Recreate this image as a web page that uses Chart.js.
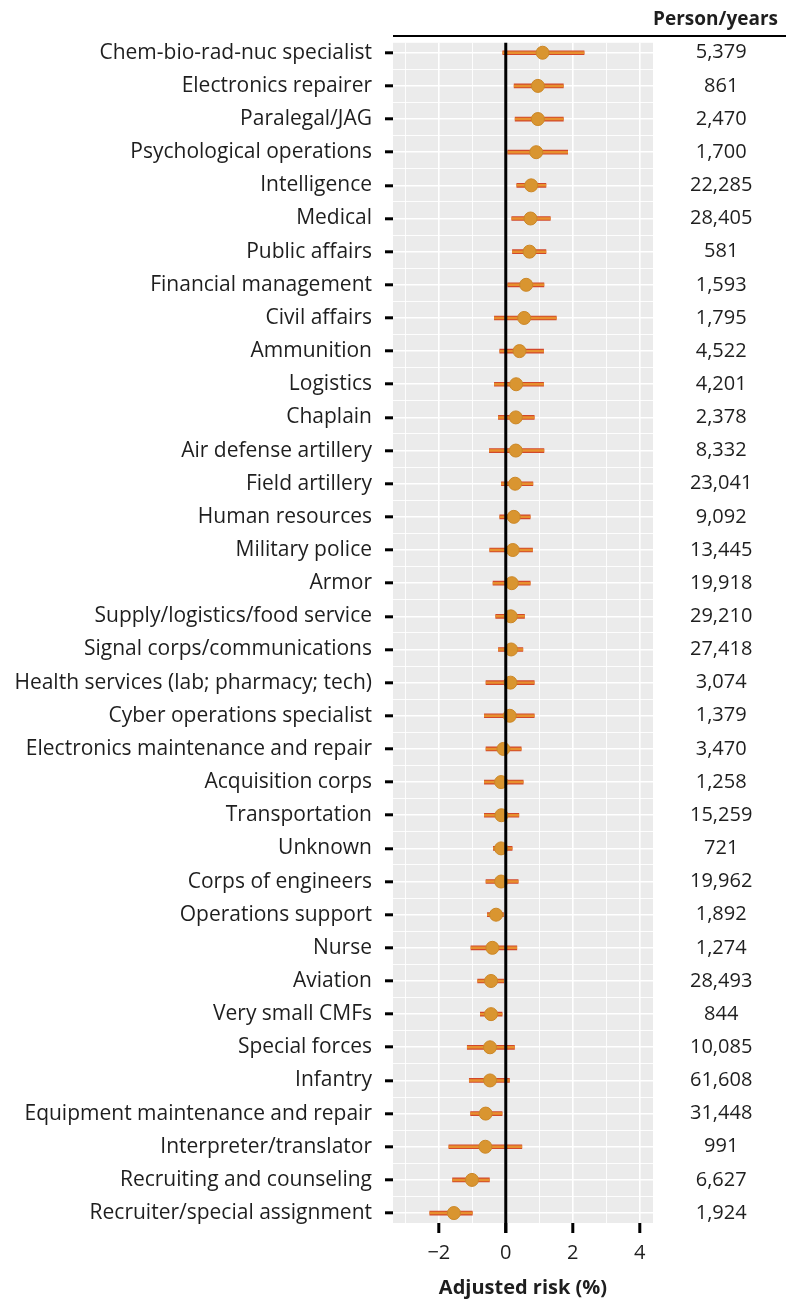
<!DOCTYPE html>
<html>
<head>
<meta charset="utf-8">
<script src="https://cdn.jsdelivr.net/npm/chart.js@4.4.1/dist/chart.umd.min.js"></script>
<style>
  html, body { margin: 0; padding: 0; background: #fff; }
  canvas { display: block; }
</style>
</head>
<body>
<canvas id="forestChart" width="786" height="1303"></canvas>
<script>
// Occupation categories, top to bottom
const categories = [
    'Chem-bio-rad-nuc specialist', 'Electronics repairer', 'Paralegal/JAG',
    'Psychological operations', 'Intelligence', 'Medical', 'Public affairs',
    'Financial management', 'Civil affairs', 'Ammunition', 'Logistics', 'Chaplain',
    'Air defense artillery', 'Field artillery', 'Human resources', 'Military police',
    'Armor', 'Supply/logistics/food service', 'Signal corps/communications',
    'Health services (lab; pharmacy; tech)', 'Cyber operations specialist',
    'Electronics maintenance and repair', 'Acquisition corps', 'Transportation',
    'Unknown', 'Corps of engineers', 'Operations support', 'Nurse', 'Aviation',
    'Very small CMFs', 'Special forces', 'Infantry', 'Equipment maintenance and repair',
    'Interpreter/translator', 'Recruiting and counseling', 'Recruiter/special assignment'
];

// Adjusted risk (%) point estimates and interval bounds
const estimates = [
    1.10, 0.96, 0.96, 0.91, 0.76, 0.74, 0.71, 0.61, 0.55, 0.41, 0.31, 0.30,
    0.30, 0.28, 0.24, 0.21, 0.18, 0.15, 0.16, 0.14, 0.12, -0.07, -0.14, -0.13,
    -0.14, -0.14, -0.29, -0.40, -0.44, -0.44, -0.47, -0.47, -0.60, -0.61, -1.01, -1.55
];
const lowerBounds = [
    -0.09, 0.25, 0.28, 0.06, 0.33, 0.18, 0.20, 0.06, -0.34, -0.18, -0.34, -0.22,
    -0.49, -0.13, -0.18, -0.48, -0.38, -0.30, -0.22, -0.59, -0.64, -0.59, -0.64, -0.64,
    -0.37, -0.59, -0.55, -1.04, -0.84, -0.76, -1.15, -1.09, -1.05, -1.70, -1.59, -2.27
];
const upperBounds = [
    2.34, 1.72, 1.72, 1.85, 1.20, 1.33, 1.20, 1.14, 1.51, 1.13, 1.13, 0.85,
    1.14, 0.81, 0.73, 0.80, 0.73, 0.56, 0.51, 0.85, 0.85, 0.46, 0.52, 0.39,
    0.19, 0.37, -0.07, 0.33, -0.06, -0.11, 0.26, 0.11, -0.11, 0.48, -0.49, -1.00
];
const personYears = [
    5379, 861, 2470, 1700, 22285, 28405, 581, 1593, 1795, 4522, 4201, 2378,
    8332, 23041, 9092, 13445, 19918, 29210, 27418, 3074, 1379, 3470, 1258, 15259,
    721, 19962, 1892, 1274, 28493, 844, 10085, 61608, 31448, 991, 6627, 1924
];
const xTickValues = [-3, -2, -1, 0, 1, 2, 3, 4];
const xLabelValues = [-2, 0, 2, 4];

const FONT = "'Open Sans', 'Noto Sans', sans-serif";
const TEXT = '#1e1e1e';

const intervals = categories.map((_, i) => ({ y: i, x: [lowerBounds[i], upperBounds[i]] }));
const points = categories.map((_, i) => ({ y: i, x: estimates[i] }));

const yMin = -0.3;
const yMax = categories.length - 1 + 0.3;

// grey panel, zero line and header rule
const panelPlugin = {
    id: 'panel',
    beforeDraw(chart) {
        const { ctx, chartArea: a } = chart;
        ctx.save();
        ctx.fillStyle = '#EBEBEB';
        ctx.fillRect(a.left, a.top, a.right - a.left, a.bottom - a.top);
        ctx.restore();
    },
    afterDatasetsDraw(chart) {
        const { ctx, chartArea: a, scales } = chart;
        const x0 = scales.x.getPixelForValue(0);
        ctx.save();
        ctx.strokeStyle = '#000';
        ctx.lineWidth = 3;
        ctx.beginPath();
        ctx.moveTo(x0, a.top);
        ctx.lineTo(x0, a.bottom + 10);
        ctx.stroke();
        ctx.lineWidth = 2;
        ctx.beginPath();
        ctx.moveTo(a.left, 36);
        ctx.lineTo(chart.width, 36);
        ctx.stroke();
        ctx.restore();
    }
};

const tickVal = c => (c && c.tick) ? c.tick.value : NaN;
const isMajorX = c => xLabelValues.includes(tickVal(c));
const isMajorY = c => Number.isInteger(tickVal(c));

new Chart(document.getElementById('forestChart'), {
    type: 'bar',
    data: {
        datasets: [
            {
                type: 'line',
                label: 'Estimate',
                data: points,
                showLine: false,
                pointRadius: 6.5,
                pointBackgroundColor: '#D99530',
                pointBorderColor: '#CC8726',
                pointBorderWidth: 1,
                order: 0
            },
            {
                label: 'Interval core',
                data: intervals,
                backgroundColor: '#E8902E',
                barThickness: 1.8,
                grouped: false,
                order: 1
            },
            {
                label: 'Interval',
                data: intervals,
                backgroundColor: '#D2482A',
                barThickness: 4,
                grouped: false,
                order: 2
            }
        ]
    },
    options: {
        responsive: false,
        animation: false,
        indexAxis: 'y',
        layout: { padding: { right: 8 } },
        plugins: {
            legend: { display: false },
            tooltip: { enabled: false },
            title: {
                display: true,
                text: 'Person/years',
                align: 'end',
                color: TEXT,
                font: { family: FONT, size: 19, weight: 'bold' },
                padding: { top: 8, bottom: 12 }
            }
        },
        scales: {
            x: {
                type: 'linear',
                min: -3.37,
                max: 4.4,
                afterBuildTicks: s => { s.ticks = xTickValues.map(v => ({ value: v })); },
                afterFit: s => { s.height = 80; },
                border: { display: false },
                grid: {
                    color: '#fff',
                    lineWidth: c => isMajorX(c) ? 1.6 : 0.9,
                    tickColor: c => isMajorX(c) ? '#000' : 'rgba(0,0,0,0)',
                    tickWidth: 3,
                    tickLength: 10
                },
                ticks: {
                    autoSkip: false,
                    maxRotation: 0,
                    color: TEXT,
                    padding: 8,
                    font: { family: FONT, size: 20 },
                    callback: v => xLabelValues.includes(v) ? String(v).replace('-', '\u2212') : ''
                },
                title: {
                    display: true,
                    text: 'Adjusted risk (%)',
                    color: TEXT,
                    font: { family: FONT, size: 20, weight: 'bold' },
                    padding: { top: 4, bottom: 3 }
                }
            },
            y: {
                type: 'linear',
                position: 'left',
                reverse: true,
                offset: false,
                min: yMin,
                max: yMax,
                afterBuildTicks: s => {
                    const t = [];
                    for (let v = 0; v <= categories.length - 1; v += 0.5) t.push({ value: v });
                    s.ticks = t;
                },
                afterFit: s => { s.width = 393; },
                border: { display: false },
                grid: {
                    offset: false,
                    color: '#fff',
                    lineWidth: c => isMajorY(c) ? 1.6 : 0.9,
                    tickColor: c => isMajorY(c) ? '#000' : 'rgba(0,0,0,0)',
                    tickWidth: 3,
                    tickLength: 8
                },
                ticks: {
                    autoSkip: false,
                    color: TEXT,
                    padding: 13,
                    font: { family: FONT, size: 21 },
                    callback: v => Number.isInteger(v) ? categories[v] : ''
                }
            },
            yRight: {
                type: 'linear',
                position: 'right',
                reverse: true,
                offset: false,
                min: yMin,
                max: yMax,
                afterBuildTicks: s => { s.ticks = categories.map((_, i) => ({ value: i })); },
                afterFit: s => { s.width = 125; },
                border: { display: false },
                // hidden tick marks: their length only pushes the labels right
                grid: { display: false, drawTicks: true, tickLength: 37, offset: false },
                ticks: {
                    autoSkip: false,
                    color: TEXT,
                    crossAlign: 'center',
                    padding: 0,
                    font: { family: FONT, size: 20 },
                    callback: v => personYears[v].toLocaleString('en-US')
                }
            }
        }
    },
    plugins: [panelPlugin]
});
</script>
</body>
</html>
